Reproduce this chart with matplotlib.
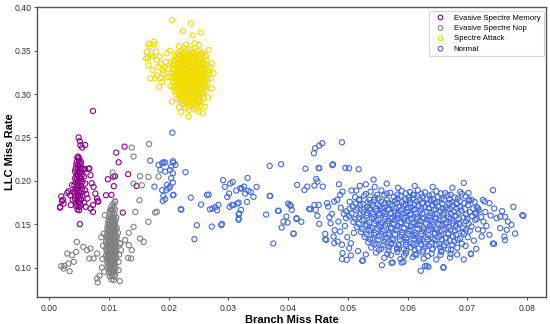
import matplotlib
matplotlib.use("Agg")
import matplotlib.pyplot as plt

plt.rcParams["font.family"] = ["Liberation Sans", "DejaVu Sans"]

labels = ["Evasive Spectre Memory", "Evasive Spectre Nop", "Spectre Attack", "Normal"]
colors = ["#8b008b", "#808080", "#f0dc00", "#4169e1"]

# Evasive Spectre Memory (branch miss rate, LLC miss rate)
memory_pts = [
    (0.0047, 0.2268), (0.0050, 0.2259), (0.0046, 0.2221), (0.0050, 0.2230), (0.0053, 0.2218),
    (0.0045, 0.2189), (0.0048, 0.2180), (0.0052, 0.2192), (0.0044, 0.2141), (0.0048, 0.2150),
    (0.0051, 0.2138), (0.0054, 0.2147), (0.0043, 0.2109), (0.0047, 0.2100), (0.0050, 0.2112),
    (0.0054, 0.2103), (0.0045, 0.2061), (0.0048, 0.2070), (0.0052, 0.2058), (0.0055, 0.2068),
    (0.0043, 0.2029), (0.0046, 0.2020), (0.0050, 0.2032), (0.0053, 0.2022), (0.0044, 0.1981),
    (0.0048, 0.1990), (0.0051, 0.1978), (0.0055, 0.1988), (0.0042, 0.1949), (0.0046, 0.1940),
    (0.0049, 0.1952), (0.0053, 0.1942), (0.0044, 0.1901), (0.0047, 0.1910), (0.0051, 0.1898),
    (0.0055, 0.1907), (0.0043, 0.1869), (0.0046, 0.1860), (0.0050, 0.1871), (0.0053, 0.1862),
    (0.0044, 0.1821), (0.0048, 0.1830), (0.0051, 0.1818), (0.0055, 0.1828), (0.0043, 0.1789),
    (0.0046, 0.1780), (0.0050, 0.1791), (0.0053, 0.1782), (0.0044, 0.1741), (0.0048, 0.1750),
    (0.0052, 0.1738), (0.0045, 0.1709), (0.0049, 0.1700), (0.0052, 0.1711), (0.0047, 0.1668),
    (0.0050, 0.1661),
    (0.0073, 0.2805), (0.0049, 0.2500), (0.0051, 0.2456), (0.0052, 0.2410), (0.0055, 0.2383),
    (0.0060, 0.2413), (0.0048, 0.2280), (0.0112, 0.2325), (0.0126, 0.2394), (0.0116, 0.2214),
    (0.0018, 0.1690), (0.0020, 0.1820), (0.0021, 0.1765), (0.0024, 0.1737), (0.0030, 0.1860),
    (0.0032, 0.1880), (0.0035, 0.1834), (0.0051, 0.1500), (0.0066, 0.2140), (0.0069, 0.2065),
    (0.0074, 0.1930), (0.0077, 0.1853), (0.0080, 0.1795), (0.0081, 0.1765), (0.0073, 0.1720),
    (0.0073, 0.1642), (0.0069, 0.1680), (0.0064, 0.1795), (0.0060, 0.1892), (0.0098, 0.2018),
    (0.0095, 0.1834), (0.0108, 0.1938), (0.0110, 0.2053), (0.0132, 0.2076), (0.0146, 0.1941),
    (0.0123, 0.1634), (0.0104, 0.1668), (0.0107, 0.2048), (0.0104, 0.1838), (0.0067, 0.2142),
    (0.0071, 0.1972), (0.0082, 0.1760), (0.0060, 0.2133), (0.0018, 0.1700), (0.0023, 0.1780),
    (0.0038, 0.1950), (0.0039, 0.1780), (0.0058, 0.2050), (0.0060, 0.1970), (0.0062, 0.1850),
    (0.0058, 0.1750), (0.0061, 0.1700), (0.0057, 0.2140), (0.0040, 0.1870), (0.0036, 0.1720),
]

# Evasive Spectre Nop
nop_pts = [
    (0.0104, 0.1704), (0.0108, 0.1695), (0.0102, 0.1662), (0.0106, 0.1655), (0.0110, 0.1667),
    (0.0101, 0.1618), (0.0105, 0.1626), (0.0109, 0.1614), (0.0100, 0.1583), (0.0104, 0.1575),
    (0.0108, 0.1587), (0.0112, 0.1578), (0.0099, 0.1538), (0.0103, 0.1546), (0.0107, 0.1535),
    (0.0111, 0.1544), (0.0098, 0.1503), (0.0102, 0.1495), (0.0106, 0.1507), (0.0110, 0.1498),
    (0.0097, 0.1458), (0.0101, 0.1466), (0.0105, 0.1455), (0.0109, 0.1464), (0.0113, 0.1457),
    (0.0098, 0.1423), (0.0102, 0.1415), (0.0106, 0.1427), (0.0110, 0.1418), (0.0096, 0.1378),
    (0.0100, 0.1386), (0.0104, 0.1375), (0.0108, 0.1384), (0.0112, 0.1376), (0.0097, 0.1343),
    (0.0101, 0.1335), (0.0105, 0.1347), (0.0109, 0.1338), (0.0113, 0.1345), (0.0095, 0.1298),
    (0.0099, 0.1306), (0.0103, 0.1295), (0.0107, 0.1304), (0.0111, 0.1297), (0.0096, 0.1263),
    (0.0100, 0.1255), (0.0104, 0.1267), (0.0108, 0.1258), (0.0112, 0.1265), (0.0095, 0.1218),
    (0.0099, 0.1226), (0.0103, 0.1215), (0.0107, 0.1224), (0.0111, 0.1216), (0.0096, 0.1183),
    (0.0100, 0.1175), (0.0104, 0.1187), (0.0108, 0.1178), (0.0112, 0.1185), (0.0095, 0.1138),
    (0.0099, 0.1146), (0.0103, 0.1135), (0.0107, 0.1144), (0.0111, 0.1136), (0.0096, 0.1103),
    (0.0100, 0.1095), (0.0104, 0.1107), (0.0108, 0.1098), (0.0112, 0.1105), (0.0097, 0.1058),
    (0.0101, 0.1066), (0.0105, 0.1055), (0.0109, 0.1064), (0.0098, 0.1023), (0.0102, 0.1015),
    (0.0106, 0.1027), (0.0110, 0.1018), (0.0099, 0.0978), (0.0103, 0.0986), (0.0107, 0.0975),
    (0.0111, 0.0983), (0.0100, 0.0943), (0.0104, 0.0935), (0.0108, 0.0946), (0.0101, 0.0898),
    (0.0105, 0.0906), (0.0109, 0.0895), (0.0104, 0.0862), (0.0108, 0.0855),
    (0.0102, 0.1561), (0.0106, 0.1558), (0.0101, 0.1521), (0.0105, 0.1518), (0.0109, 0.1524),
    (0.0100, 0.1481), (0.0104, 0.1478), (0.0108, 0.1484), (0.0099, 0.1441), (0.0103, 0.1438),
    (0.0107, 0.1444), (0.0111, 0.1439), (0.0100, 0.1401), (0.0104, 0.1398), (0.0108, 0.1404),
    (0.0098, 0.1361), (0.0102, 0.1358), (0.0106, 0.1364), (0.0110, 0.1359), (0.0099, 0.1321),
    (0.0103, 0.1318), (0.0107, 0.1324), (0.0111, 0.1319), (0.0097, 0.1281), (0.0101, 0.1278),
    (0.0105, 0.1284), (0.0109, 0.1279), (0.0098, 0.1241), (0.0102, 0.1238), (0.0106, 0.1244),
    (0.0110, 0.1239), (0.0097, 0.1201), (0.0101, 0.1198), (0.0105, 0.1204), (0.0109, 0.1199),
    (0.0098, 0.1161), (0.0102, 0.1158), (0.0106, 0.1164), (0.0110, 0.1159), (0.0097, 0.1121),
    (0.0101, 0.1118), (0.0105, 0.1124), (0.0109, 0.1119), (0.0099, 0.1081), (0.0103, 0.1078),
    (0.0107, 0.1084), (0.0100, 0.1041), (0.0104, 0.1038), (0.0108, 0.1044), (0.0101, 0.1001),
    (0.0105, 0.0998), (0.0109, 0.1004), (0.0102, 0.0961), (0.0106, 0.0958),
    (0.0020, 0.1016), (0.0024, 0.0989), (0.0025, 0.1020), (0.0034, 0.0958), (0.0032, 0.1046),
    (0.0030, 0.1161), (0.0038, 0.1143), (0.0041, 0.1066), (0.0045, 0.1180), (0.0046, 0.1296),
    (0.0057, 0.1238), (0.0063, 0.1200), (0.0069, 0.1219), (0.0067, 0.1104), (0.0074, 0.1104),
    (0.0080, 0.1161), (0.0080, 0.0873), (0.0084, 0.0904), (0.0081, 0.0828), (0.0091, 0.1390),
    (0.0093, 0.1603), (0.0107, 0.1737), (0.0110, 0.1757), (0.0119, 0.1274), (0.0127, 0.1316),
    (0.0133, 0.1258), (0.0133, 0.1400), (0.0141, 0.1469), (0.0144, 0.1642), (0.0151, 0.1776),
    (0.0158, 0.1296), (0.0152, 0.1334), (0.0138, 0.1200), (0.0137, 0.1104), (0.0132, 0.1111),
    (0.0116, 0.1066), (0.0110, 0.0912), (0.0118, 0.0843), (0.0166, 0.1527), (0.0177, 0.1634),
    (0.0180, 0.1642), (0.0141, 0.1968), (0.0155, 0.1949), (0.0152, 0.2053), (0.0166, 0.2045),
    (0.0183, 0.2049), (0.0138, 0.2383), (0.0141, 0.2280), (0.0167, 0.2425), (0.0106, 0.2095),
    (0.0110, 0.1766), (0.0090, 0.1250), (0.0089, 0.1100), (0.0088, 0.1000), (0.0117, 0.1150),
    (0.0118, 0.1280), (0.0092, 0.0950), (0.0116, 0.0970), (0.0087, 0.1350), (0.0115, 0.1400),
    (0.0120, 0.1200),
]

# Spectre Attack
attack_pts = [
    (0.0226, 0.3528), (0.0235, 0.3515), (0.0244, 0.3531), (0.0219, 0.3493), (0.0229, 0.3502),
    (0.0239, 0.3488), (0.0249, 0.3499), (0.0256, 0.3484), (0.0214, 0.3468), (0.0223, 0.3476),
    (0.0233, 0.3461), (0.0243, 0.3473), (0.0252, 0.3465), (0.0210, 0.3441), (0.0218, 0.3450),
    (0.0227, 0.3437), (0.0237, 0.3448), (0.0246, 0.3440), (0.0255, 0.3452), (0.0262, 0.3436),
    (0.0213, 0.3415), (0.0222, 0.3424), (0.0231, 0.3411), (0.0241, 0.3426), (0.0250, 0.3413),
    (0.0259, 0.3421), (0.0208, 0.3390), (0.0217, 0.3399), (0.0226, 0.3386), (0.0235, 0.3397),
    (0.0245, 0.3389), (0.0254, 0.3401), (0.0263, 0.3392), (0.0211, 0.3372), (0.0221, 0.3363),
    (0.0230, 0.3375), (0.0239, 0.3366), (0.0249, 0.3377), (0.0258, 0.3361), (0.0207, 0.3341),
    (0.0216, 0.3350), (0.0225, 0.3338), (0.0234, 0.3347), (0.0243, 0.3339), (0.0253, 0.3351),
    (0.0262, 0.3343), (0.0211, 0.3324), (0.0220, 0.3313), (0.0229, 0.3326), (0.0238, 0.3316),
    (0.0248, 0.3322), (0.0257, 0.3314), (0.0265, 0.3327), (0.0206, 0.3291), (0.0215, 0.3300),
    (0.0224, 0.3288), (0.0233, 0.3297), (0.0242, 0.3289), (0.0252, 0.3301), (0.0261, 0.3292),
    (0.0209, 0.3273), (0.0219, 0.3264), (0.0228, 0.3276), (0.0237, 0.3265), (0.0247, 0.3274),
    (0.0256, 0.3262), (0.0265, 0.3271), (0.0205, 0.3241), (0.0214, 0.3250), (0.0223, 0.3238),
    (0.0232, 0.3248), (0.0242, 0.3240), (0.0251, 0.3252), (0.0260, 0.3243), (0.0268, 0.3249),
    (0.0209, 0.3224), (0.0218, 0.3213), (0.0227, 0.3226), (0.0236, 0.3215), (0.0246, 0.3223),
    (0.0255, 0.3212), (0.0264, 0.3225), (0.0206, 0.3191), (0.0214, 0.3200), (0.0223, 0.3188),
    (0.0232, 0.3197), (0.0241, 0.3189), (0.0250, 0.3201), (0.0259, 0.3192), (0.0210, 0.3174),
    (0.0219, 0.3163), (0.0228, 0.3176), (0.0237, 0.3165), (0.0246, 0.3175), (0.0255, 0.3162),
    (0.0264, 0.3170), (0.0207, 0.3141), (0.0215, 0.3150), (0.0224, 0.3138), (0.0233, 0.3149),
    (0.0242, 0.3140), (0.0251, 0.3152), (0.0260, 0.3143), (0.0211, 0.3124), (0.0220, 0.3113),
    (0.0229, 0.3126), (0.0238, 0.3115), (0.0247, 0.3123), (0.0256, 0.3112), (0.0264, 0.3121),
    (0.0208, 0.3091), (0.0216, 0.3100), (0.0225, 0.3088), (0.0234, 0.3097), (0.0243, 0.3089),
    (0.0252, 0.3101), (0.0261, 0.3092), (0.0212, 0.3074), (0.0221, 0.3063), (0.0230, 0.3076),
    (0.0239, 0.3065), (0.0248, 0.3074), (0.0257, 0.3062), (0.0210, 0.3041), (0.0218, 0.3050),
    (0.0227, 0.3038), (0.0236, 0.3048), (0.0245, 0.3040), (0.0254, 0.3051), (0.0262, 0.3043),
    (0.0214, 0.3024), (0.0223, 0.3013), (0.0232, 0.3026), (0.0241, 0.3015), (0.0250, 0.3023),
    (0.0258, 0.3012), (0.0212, 0.2991), (0.0220, 0.3000), (0.0229, 0.2988), (0.0238, 0.2998),
    (0.0247, 0.2989), (0.0256, 0.3001), (0.0217, 0.2974), (0.0226, 0.2963), (0.0235, 0.2976),
    (0.0244, 0.2965), (0.0253, 0.2973), (0.0215, 0.2941), (0.0223, 0.2950), (0.0232, 0.2938),
    (0.0241, 0.2948), (0.0250, 0.2940), (0.0258, 0.2947), (0.0219, 0.2924), (0.0228, 0.2913),
    (0.0237, 0.2926), (0.0246, 0.2915), (0.0254, 0.2922), (0.0222, 0.2891), (0.0231, 0.2900),
    (0.0240, 0.2888), (0.0249, 0.2897), (0.0226, 0.2874), (0.0235, 0.2863), (0.0244, 0.2872),
    (0.0253, 0.2866), (0.0229, 0.2841), (0.0239, 0.2848), (0.0248, 0.2839), (0.0234, 0.2818),
    (0.0243, 0.2824),
    # filling the core
    (0.0218, 0.3461), (0.0227, 0.3456), (0.0236, 0.3463), (0.0245, 0.3458), (0.0254, 0.3462),
    (0.0222, 0.3433), (0.0231, 0.3437), (0.0240, 0.3431), (0.0249, 0.3436),
    (0.0216, 0.3411), (0.0226, 0.3406), (0.0235, 0.3413), (0.0244, 0.3408), (0.0253, 0.3412),
    (0.0221, 0.3383), (0.0230, 0.3387), (0.0240, 0.3381), (0.0249, 0.3386),
    (0.0215, 0.3361), (0.0225, 0.3356), (0.0234, 0.3363), (0.0244, 0.3358), (0.0254, 0.3362),
    (0.0220, 0.3333), (0.0229, 0.3337), (0.0239, 0.3331), (0.0248, 0.3336), (0.0258, 0.3333),
    (0.0214, 0.3311), (0.0224, 0.3306), (0.0234, 0.3313), (0.0243, 0.3308), (0.0253, 0.3312),
    (0.0219, 0.3283), (0.0229, 0.3287), (0.0238, 0.3281), (0.0247, 0.3286), (0.0257, 0.3283),
    (0.0213, 0.3261), (0.0223, 0.3256), (0.0233, 0.3263), (0.0242, 0.3258), (0.0252, 0.3262),
    (0.0218, 0.3233), (0.0228, 0.3237), (0.0237, 0.3231), (0.0246, 0.3236), (0.0256, 0.3233),
    (0.0213, 0.3211), (0.0223, 0.3206), (0.0232, 0.3213), (0.0241, 0.3208), (0.0251, 0.3212),
    (0.0218, 0.3183), (0.0227, 0.3187), (0.0236, 0.3181), (0.0246, 0.3186), (0.0255, 0.3183),
    (0.0214, 0.3161), (0.0223, 0.3156), (0.0233, 0.3163), (0.0242, 0.3158), (0.0251, 0.3162),
    (0.0219, 0.3133), (0.0228, 0.3137), (0.0238, 0.3131), (0.0247, 0.3136), (0.0256, 0.3133),
    (0.0215, 0.3111), (0.0225, 0.3106), (0.0234, 0.3113), (0.0243, 0.3108), (0.0252, 0.3112),
    (0.0220, 0.3083), (0.0230, 0.3087), (0.0239, 0.3081), (0.0248, 0.3086), (0.0257, 0.3083),
    (0.0217, 0.3061), (0.0226, 0.3056), (0.0235, 0.3063), (0.0244, 0.3058), (0.0253, 0.3062),
    (0.0222, 0.3033), (0.0231, 0.3037), (0.0240, 0.3031), (0.0249, 0.3036),
    (0.0219, 0.3011), (0.0228, 0.3006), (0.0237, 0.3013), (0.0246, 0.3008), (0.0254, 0.3012),
    (0.0224, 0.2983), (0.0233, 0.2987), (0.0242, 0.2981), (0.0251, 0.2986),
    (0.0221, 0.2961), (0.0230, 0.2956), (0.0239, 0.2963), (0.0248, 0.2958),
    (0.0227, 0.2933), (0.0236, 0.2937), (0.0245, 0.2931),
    (0.0233, 0.2906), (0.0242, 0.2911), (0.0251, 0.2907),
    # fringe and outliers
    (0.0233, 0.2740), (0.0257, 0.2779), (0.0205, 0.2913), (0.0275, 0.3240), (0.0272, 0.3355),
    (0.0267, 0.3508), (0.0262, 0.3085), (0.0272, 0.3067), (0.0243, 0.3585), (0.0229, 0.3574),
    (0.0270, 0.3180), (0.0269, 0.3300), (0.0201, 0.3200), (0.0199, 0.3290), (0.0203, 0.3370),
    (0.0217, 0.3555), (0.0251, 0.3565), (0.0260, 0.2855), (0.0217, 0.2850), (0.0203, 0.3090),
    (0.0266, 0.2960), (0.0221, 0.2795), (0.0250, 0.2800),
    (0.0205, 0.3854), (0.0237, 0.3816), (0.0224, 0.3727), (0.0240, 0.3677), (0.0254, 0.3712),
    (0.0166, 0.3577), (0.0175, 0.3604), (0.0176, 0.3573), (0.0163, 0.3489), (0.0162, 0.3413),
    (0.0166, 0.3335), (0.0172, 0.3431), (0.0178, 0.3490), (0.0180, 0.3393), (0.0183, 0.3316),
    (0.0173, 0.3278), (0.0169, 0.3182), (0.0177, 0.3182), (0.0184, 0.3078), (0.0186, 0.3182),
    (0.0191, 0.3240), (0.0197, 0.3470), (0.0202, 0.3500), (0.0168, 0.3545), (0.0171, 0.3465),
    (0.0165, 0.3420), (0.0188, 0.3345), (0.0194, 0.3310), (0.0190, 0.3275), (0.0197, 0.3195),
    (0.0189, 0.3140), (0.0195, 0.3370), (0.0180, 0.3215), (0.0185, 0.3430),
]

# Normal
normal_pts = [
    # main cluster
    (0.0538, 0.1875), (0.0556, 0.1890), (0.0571, 0.1862), (0.0590, 0.1884), (0.0604, 0.1871),
    (0.0617, 0.1893), (0.0629, 0.1868), (0.0648, 0.1880), (0.0663, 0.1858), (0.0688, 0.1872),
    (0.0512, 0.1812), (0.0527, 0.1829), (0.0545, 0.1808), (0.0561, 0.1834), (0.0577, 0.1815),
    (0.0588, 0.1826), (0.0602, 0.1805), (0.0611, 0.1838), (0.0624, 0.1817), (0.0636, 0.1829),
    (0.0651, 0.1810), (0.0667, 0.1833), (0.0679, 0.1807), (0.0697, 0.1822),
    (0.0503, 0.1758), (0.0519, 0.1774), (0.0533, 0.1752), (0.0544, 0.1779), (0.0556, 0.1761),
    (0.0568, 0.1748), (0.0579, 0.1771), (0.0591, 0.1755), (0.0603, 0.1778), (0.0615, 0.1762),
    (0.0626, 0.1745), (0.0638, 0.1773), (0.0649, 0.1757), (0.0661, 0.1779), (0.0674, 0.1750),
    (0.0688, 0.1768), (0.0712, 0.1756),
    (0.0508, 0.1704), (0.0521, 0.1721), (0.0532, 0.1697), (0.0541, 0.1716), (0.0553, 0.1709),
    (0.0562, 0.1692), (0.0574, 0.1718), (0.0585, 0.1701), (0.0597, 0.1723), (0.0606, 0.1695),
    (0.0618, 0.1712), (0.0629, 0.1698), (0.0641, 0.1720), (0.0652, 0.1704), (0.0664, 0.1691),
    (0.0676, 0.1715), (0.0687, 0.1700), (0.0701, 0.1719), (0.0716, 0.1696),
    (0.0497, 0.1648), (0.0514, 0.1661), (0.0526, 0.1640), (0.0537, 0.1664), (0.0548, 0.1652),
    (0.0559, 0.1637), (0.0567, 0.1668), (0.0578, 0.1645), (0.0589, 0.1659), (0.0599, 0.1641),
    (0.0610, 0.1666), (0.0621, 0.1650), (0.0633, 0.1638), (0.0644, 0.1662), (0.0655, 0.1646),
    (0.0667, 0.1669), (0.0678, 0.1642), (0.0690, 0.1657), (0.0704, 0.1639), (0.0719, 0.1660),
    (0.0502, 0.1593), (0.0518, 0.1578), (0.0531, 0.1601), (0.0543, 0.1584), (0.0552, 0.1606),
    (0.0563, 0.1589), (0.0574, 0.1575), (0.0584, 0.1598), (0.0595, 0.1582), (0.0605, 0.1604),
    (0.0616, 0.1587), (0.0626, 0.1573), (0.0637, 0.1596), (0.0647, 0.1580), (0.0659, 0.1602),
    (0.0669, 0.1585), (0.0681, 0.1599), (0.0694, 0.1577), (0.0708, 0.1594), (0.0723, 0.1581),
    (0.0509, 0.1527), (0.0524, 0.1543), (0.0536, 0.1521), (0.0547, 0.1538), (0.0557, 0.1516),
    (0.0568, 0.1535), (0.0578, 0.1549), (0.0589, 0.1524), (0.0600, 0.1541), (0.0611, 0.1519),
    (0.0621, 0.1537), (0.0632, 0.1552), (0.0642, 0.1528), (0.0653, 0.1545), (0.0664, 0.1522),
    (0.0675, 0.1539), (0.0686, 0.1517), (0.0698, 0.1534), (0.0713, 0.1548),
    (0.0515, 0.1468), (0.0529, 0.1482), (0.0541, 0.1459), (0.0552, 0.1477), (0.0562, 0.1490),
    (0.0573, 0.1463), (0.0583, 0.1481), (0.0594, 0.1456), (0.0605, 0.1474), (0.0615, 0.1488),
    (0.0626, 0.1461), (0.0637, 0.1479), (0.0648, 0.1457), (0.0658, 0.1485), (0.0669, 0.1466),
    (0.0681, 0.1480), (0.0693, 0.1455), (0.0707, 0.1472),
    (0.0522, 0.1409), (0.0535, 0.1423), (0.0546, 0.1401), (0.0558, 0.1418), (0.0569, 0.1396),
    (0.0580, 0.1427), (0.0591, 0.1405), (0.0602, 0.1420), (0.0613, 0.1398), (0.0624, 0.1416),
    (0.0635, 0.1431), (0.0646, 0.1403), (0.0657, 0.1419), (0.0668, 0.1397), (0.0679, 0.1425),
    (0.0692, 0.1408), (0.0704, 0.1422),
    (0.0528, 0.1352), (0.0541, 0.1338), (0.0553, 0.1361), (0.0565, 0.1344), (0.0576, 0.1330),
    (0.0587, 0.1357), (0.0598, 0.1341), (0.0609, 0.1362), (0.0620, 0.1335), (0.0631, 0.1350),
    (0.0642, 0.1328), (0.0653, 0.1355), (0.0664, 0.1339), (0.0676, 0.1360), (0.0688, 0.1336),
    (0.0701, 0.1349),
    (0.0534, 0.1291), (0.0548, 0.1276), (0.0561, 0.1298), (0.0573, 0.1283), (0.0585, 0.1270),
    (0.0597, 0.1294), (0.0608, 0.1279), (0.0619, 0.1301), (0.0630, 0.1273), (0.0641, 0.1290),
    (0.0653, 0.1268), (0.0665, 0.1287), (0.0678, 0.1299), (0.0691, 0.1275),
    (0.0539, 0.1232), (0.0556, 0.1218), (0.0569, 0.1240), (0.0582, 0.1225), (0.0594, 0.1211),
    (0.0606, 0.1236), (0.0618, 0.1220), (0.0630, 0.1243), (0.0642, 0.1214), (0.0655, 0.1231),
    (0.0668, 0.1209), (0.0683, 0.1228),
    (0.0547, 0.1172), (0.0566, 0.1158), (0.0583, 0.1179), (0.0597, 0.1163), (0.0612, 0.1150),
    (0.0625, 0.1176), (0.0640, 0.1160), (0.0656, 0.1181), (0.0672, 0.1155),
    (0.0561, 0.1112), (0.0588, 0.1098), (0.0609, 0.1119), (0.0627, 0.1104), (0.0648, 0.1092),
    (0.0671, 0.1115),
    # denser middle of the cluster
    (0.0530, 0.1848), (0.0549, 0.1839), (0.0565, 0.1853), (0.0583, 0.1842), (0.0597, 0.1857),
    (0.0609, 0.1838), (0.0623, 0.1851), (0.0641, 0.1843), (0.0656, 0.1855), (0.0672, 0.1840),
    (0.0691, 0.1850),
    (0.0519, 0.1789), (0.0536, 0.1782), (0.0551, 0.1795), (0.0566, 0.1780), (0.0583, 0.1792),
    (0.0597, 0.1786), (0.0609, 0.1798), (0.0620, 0.1783), (0.0633, 0.1794), (0.0644, 0.1781),
    (0.0657, 0.1796), (0.0670, 0.1785), (0.0684, 0.1793), (0.0703, 0.1784),
    (0.0513, 0.1738), (0.0526, 0.1731), (0.0538, 0.1744), (0.0550, 0.1729), (0.0561, 0.1741),
    (0.0571, 0.1733), (0.0582, 0.1746), (0.0593, 0.1730), (0.0604, 0.1742), (0.0612, 0.1728),
    (0.0624, 0.1740), (0.0635, 0.1734), (0.0646, 0.1745), (0.0658, 0.1731), (0.0670, 0.1743),
    (0.0682, 0.1733), (0.0695, 0.1741),
    (0.0503, 0.1678), (0.0516, 0.1687), (0.0527, 0.1673), (0.0536, 0.1684), (0.0547, 0.1679),
    (0.0557, 0.1686), (0.0569, 0.1672), (0.0580, 0.1683), (0.0591, 0.1676), (0.0601, 0.1688),
    (0.0612, 0.1674), (0.0623, 0.1681), (0.0635, 0.1687), (0.0647, 0.1672), (0.0658, 0.1683),
    (0.0670, 0.1677), (0.0682, 0.1686), (0.0696, 0.1675), (0.0710, 0.1682),
    (0.0506, 0.1622), (0.0520, 0.1615), (0.0532, 0.1628), (0.0542, 0.1613), (0.0553, 0.1625),
    (0.0563, 0.1618), (0.0572, 0.1630), (0.0583, 0.1616), (0.0594, 0.1627), (0.0604, 0.1612),
    (0.0615, 0.1624), (0.0625, 0.1619), (0.0638, 0.1629), (0.0649, 0.1614), (0.0660, 0.1626),
    (0.0673, 0.1617), (0.0685, 0.1628), (0.0698, 0.1613), (0.0713, 0.1623),
    (0.0512, 0.1562), (0.0527, 0.1556), (0.0540, 0.1568), (0.0551, 0.1553), (0.0562, 0.1565),
    (0.0573, 0.1559), (0.0583, 0.1570), (0.0594, 0.1554), (0.0605, 0.1566), (0.0616, 0.1557),
    (0.0627, 0.1569), (0.0638, 0.1552), (0.0648, 0.1563), (0.0660, 0.1556), (0.0672, 0.1567),
    (0.0685, 0.1558), (0.0700, 0.1565), (0.0716, 0.1561),
    (0.0518, 0.1502), (0.0532, 0.1496), (0.0544, 0.1508), (0.0555, 0.1493), (0.0566, 0.1505),
    (0.0577, 0.1499), (0.0588, 0.1510), (0.0599, 0.1494), (0.0610, 0.1506), (0.0620, 0.1497),
    (0.0631, 0.1509), (0.0642, 0.1492), (0.0653, 0.1503), (0.0664, 0.1496), (0.0676, 0.1508),
    (0.0688, 0.1498), (0.0702, 0.1505),
    (0.0524, 0.1442), (0.0538, 0.1436), (0.0549, 0.1448), (0.0561, 0.1433), (0.0572, 0.1445),
    (0.0583, 0.1439), (0.0594, 0.1450), (0.0605, 0.1434), (0.0616, 0.1446), (0.0627, 0.1437),
    (0.0638, 0.1449), (0.0649, 0.1432), (0.0660, 0.1443), (0.0672, 0.1436), (0.0684, 0.1447),
    (0.0698, 0.1438),
    (0.0531, 0.1382), (0.0544, 0.1376), (0.0556, 0.1388), (0.0568, 0.1373), (0.0579, 0.1385),
    (0.0590, 0.1379), (0.0601, 0.1390), (0.0612, 0.1374), (0.0623, 0.1386), (0.0634, 0.1377),
    (0.0645, 0.1389), (0.0656, 0.1372), (0.0668, 0.1383), (0.0681, 0.1376), (0.0694, 0.1387),
    (0.0537, 0.1322), (0.0551, 0.1316), (0.0563, 0.1328), (0.0575, 0.1313), (0.0587, 0.1325),
    (0.0598, 0.1319), (0.0610, 0.1330), (0.0621, 0.1314), (0.0633, 0.1326), (0.0645, 0.1317),
    (0.0657, 0.1329), (0.0670, 0.1312), (0.0684, 0.1323),
    (0.0544, 0.1262), (0.0559, 0.1256), (0.0572, 0.1268), (0.0585, 0.1253), (0.0597, 0.1265),
    (0.0610, 0.1259), (0.0622, 0.1270), (0.0635, 0.1254), (0.0648, 0.1266), (0.0661, 0.1257),
    (0.0675, 0.1264),
    (0.0552, 0.1202), (0.0568, 0.1196), (0.0583, 0.1208), (0.0598, 0.1193), (0.0612, 0.1205),
    (0.0626, 0.1199), (0.0641, 0.1210), (0.0657, 0.1194), (0.0673, 0.1204),
    (0.0572, 0.1142), (0.0594, 0.1136), (0.0615, 0.1148), (0.0634, 0.1133), (0.0655, 0.1145),
    # cluster fringe
    (0.0429, 0.2140), (0.0451, 0.2149), (0.0474, 0.2180), (0.0496, 0.2149), (0.0518, 0.2133),
    (0.0543, 0.2014), (0.0565, 0.1968), (0.0694, 0.1976), (0.0743, 0.1892), (0.0777, 0.1700),
    (0.0792, 0.1604), (0.0780, 0.1392), (0.0763, 0.1316), (0.0743, 0.1277), (0.0706, 0.1161),
    (0.0694, 0.1093), (0.0660, 0.0997), (0.0635, 0.1008), (0.0622, 0.0962), (0.0629, 0.1016),
    (0.0593, 0.1066), (0.0573, 0.1054), (0.0557, 0.1027), (0.0524, 0.1077), (0.0490, 0.1097),
    (0.0462, 0.1327), (0.0437, 0.1672), (0.0422, 0.1527), (0.0409, 0.1392), (0.0400, 0.1737),
    (0.0384, 0.1654), (0.0632, 0.1020), (0.0660, 0.1004), (0.0706, 0.1154), (0.0726, 0.1427),
    (0.0755, 0.1585), (0.0763, 0.1585), (0.0768, 0.1530), (0.0774, 0.1492), (0.0755, 0.1454),
    (0.0749, 0.1569), (0.0766, 0.1435), (0.0762, 0.1357), (0.0737, 0.1377), (0.0724, 0.1357),
    (0.0729, 0.1760), (0.0737, 0.1742), (0.0726, 0.1780), (0.0718, 0.1684), (0.0707, 0.1780),
    (0.0702, 0.1772), (0.0715, 0.1634), (0.0727, 0.1530), (0.0794, 0.1596), (0.0745, 0.1273),
    (0.0730, 0.1640), (0.0739, 0.1600), (0.0732, 0.1480), (0.0745, 0.1680), (0.0758, 0.1650),
    (0.0718, 0.1440), (0.0711, 0.1310), (0.0697, 0.1250), (0.0715, 0.1215), (0.0683, 0.1150),
    (0.0702, 0.1860), (0.0675, 0.1920), (0.0642, 0.1930), (0.0612, 0.1940), (0.0584, 0.1920),
    # left side of cluster
    (0.0443, 0.2318), (0.0457, 0.2433), (0.0490, 0.2444), (0.0445, 0.2376), (0.0452, 0.2406),
    (0.0452, 0.2145), (0.0475, 0.2191), (0.0502, 0.2145), (0.0415, 0.1953), (0.0427, 0.1895),
    (0.0432, 0.1933), (0.0444, 0.1945), (0.0447, 0.2022), (0.0449, 0.1991), (0.0458, 0.1933),
    (0.0404, 0.1711), (0.0406, 0.1665), (0.0435, 0.1676), (0.0444, 0.1722), (0.0451, 0.1722),
    (0.0446, 0.1665), (0.0449, 0.1596), (0.0465, 0.1742), (0.0467, 0.1703), (0.0473, 0.1619),
    (0.0477, 0.1760), (0.0482, 0.1780), (0.0487, 0.1838), (0.0491, 0.1876), (0.0414, 0.1569),
    (0.0452, 0.1503), (0.0471, 0.1511), (0.0409, 0.1388), (0.0462, 0.1388), (0.0464, 0.1319),
    (0.0476, 0.1357), (0.0477, 0.1281), (0.0487, 0.1415), (0.0490, 0.1262), (0.0491, 0.1166),
    (0.0498, 0.1089), (0.0502, 0.1222), (0.0497, 0.1569), (0.0506, 0.1888), (0.0514, 0.1888),
    (0.0520, 0.1942), (0.0525, 0.1081), (0.0575, 0.1058), (0.0590, 0.1058), (0.0484, 0.1530),
    (0.0493, 0.1620), (0.0488, 0.1690), (0.0495, 0.1480), (0.0499, 0.1350), (0.0483, 0.1300),
    (0.0505, 0.1280), (0.0510, 0.1400), (0.0517, 0.1190), (0.0530, 0.1150), (0.0505, 0.1140),
    (0.0478, 0.1430), (0.0469, 0.1580), (0.0485, 0.1960), (0.0530, 0.1960), (0.0545, 0.1930),
    # between the clusters
    (0.0206, 0.2555), (0.0169, 0.2233), (0.0191, 0.2214), (0.0207, 0.2226),
    (0.0183, 0.2183), (0.0189, 0.2203), (0.0194, 0.2210), (0.0204, 0.2164), (0.0208, 0.2210),
    (0.0211, 0.2183), (0.0186, 0.2126), (0.0194, 0.2106), (0.0202, 0.2126), (0.0207, 0.2087),
    (0.0204, 0.2030), (0.0197, 0.1953), (0.0200, 0.1915), (0.0196, 0.1895), (0.0202, 0.1933),
    (0.0207, 0.1980), (0.0191, 0.1826), (0.0190, 0.1768), (0.0194, 0.1788), (0.0208, 0.1838),
    (0.0176, 0.1933), (0.0228, 0.2099), (0.0189, 0.1892), (0.0207, 0.1834), (0.0221, 0.1668),
    (0.0237, 0.1806), (0.0247, 0.1488), (0.0243, 0.1327), (0.0254, 0.1726), (0.0267, 0.1841),
    (0.0273, 0.1680), (0.0281, 0.1661), (0.0288, 0.1488), (0.0291, 0.2007), (0.0294, 0.1930),
    (0.0298, 0.1815), (0.0301, 0.1853), (0.0303, 0.1968), (0.0307, 0.1987), (0.0302, 0.1700),
    (0.0308, 0.1720), (0.0315, 0.1737), (0.0318, 0.1622), (0.0317, 0.1565), (0.0322, 0.1910),
    (0.0328, 0.1853), (0.0332, 0.2033), (0.0337, 0.1872), (0.0347, 0.1930), (0.0342, 0.1815),
    (0.0331, 0.1757), (0.0363, 0.1611), (0.0369, 0.1826), (0.0375, 0.1277), (0.0369, 0.2172),
    (0.0272, 0.1472), (0.0289, 0.1503), (0.0220, 0.1672), (0.0264, 0.1838), (0.0269, 0.1672),
    (0.0278, 0.1696), (0.0283, 0.1722), (0.0313, 0.1888), (0.0320, 0.1915), (0.0326, 0.1933),
    (0.0333, 0.1884), (0.0317, 0.1749), (0.0321, 0.1665), (0.0317, 0.1615), (0.0317, 0.1550),
    (0.0370, 0.1826), (0.0388, 0.2191), (0.0383, 0.1654), (0.0397, 0.1588), (0.0392, 0.1530),
    (0.0403, 0.1722), (0.0399, 0.1519), (0.0389, 0.1461), (0.0414, 0.1561), (0.0306, 0.1722),
]

fig, ax = plt.subplots(figsize=(5.5, 3.24), dpi=100)
fig.subplots_adjust(left=0.068, right=0.993, bottom=0.082, top=0.979)

for pts, lab, col in zip([memory_pts, nop_pts, attack_pts, normal_pts], labels, colors):
    xs = [p[0] for p in pts]
    ys = [p[1] for p in pts]
    ax.scatter(xs, ys, s=14, facecolors="none", edgecolors=col, linewidths=0.8, label=lab)

ax.set_xlim(-0.002, 0.0832)
ax.set_ylim(0.0655, 0.4007)
ax.set_xticks([0.00, 0.01, 0.02, 0.03, 0.04, 0.05, 0.06, 0.07, 0.08])
ax.set_yticks([0.10, 0.15, 0.20, 0.25, 0.30, 0.35, 0.40])
ax.xaxis.set_major_formatter(matplotlib.ticker.FormatStrFormatter("%.2f"))
ax.yaxis.set_major_formatter(matplotlib.ticker.FormatStrFormatter("%.2f"))
ax.tick_params(labelsize=6.2, length=2.5, width=0.6, colors="#333333", pad=2)
for sp in ax.spines.values():
    sp.set_color("#555555")
    sp.set_linewidth(1.0)

ax.set_xlabel("Branch Miss Rate", fontsize=8, fontweight="bold", labelpad=2)
ax.set_ylabel("LLC Miss Rate", fontsize=8, fontweight="bold")
ax.yaxis.set_label_coords(-0.044, 0.5)

leg = ax.legend(loc="upper right", fontsize=5.6, markerscale=0.9, handletextpad=0.7,
                borderpad=0.45, labelspacing=0.38, frameon=True, fancybox=True,
                bbox_to_anchor=(1.0, 0.995), borderaxespad=0.3)
leg.get_frame().set_edgecolor("#cccccc")
leg.get_frame().set_linewidth(0.8)

fig.savefig("out.png", dpi=100)
